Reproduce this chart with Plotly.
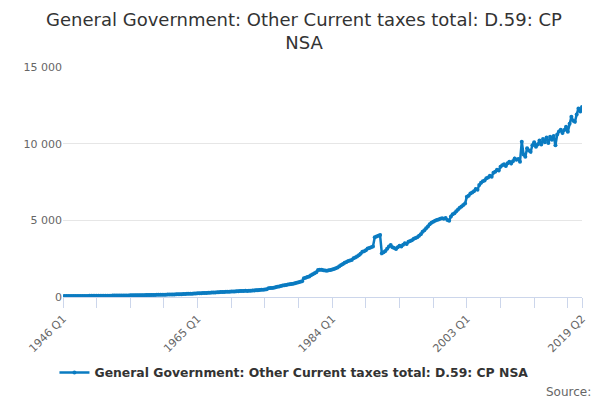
import plotly.graph_objects as go

TITLE = "General Government: Other Current taxes total: D.59: CP<br>NSA"
SERIES_NAME = "General Government: Other Current taxes total: D.59: CP NSA"

# quarterly labels 1946 Q1 .. 2019 Q2
quarters = [f"{y} Q{q}" for y in range(1946, 2020) for q in range(1, 5)][:294]

# values (GBP m), one row per year
values = [
    55, 58, 60, 60,            # 1946
    62, 63, 64, 65,            # 1947
    66, 67, 68, 70,            # 1948
    71, 72, 73, 74,            # 1949
    75, 76, 77, 78,            # 1950
    80, 81, 82, 84,            # 1951
    85, 86, 88, 89,            # 1952
    90, 92, 93, 95,            # 1953
    96, 98, 99, 101,           # 1954
    103, 104, 106, 108,        # 1955
    110, 112, 114, 116,        # 1956
    118, 120, 122, 124,        # 1957
    127, 129, 131, 134,        # 1958
    136, 139, 142, 145,        # 1959
    148, 151, 154, 157,        # 1960
    160, 164, 167, 171,        # 1961
    174, 178, 182, 186,        # 1962
    195, 200, 205, 210,        # 1963
    215, 220, 226, 232,        # 1964
    238, 244, 250, 256,        # 1965
    262, 268, 275, 282,        # 1966
    288, 294, 300, 306,        # 1967
    312, 318, 324, 330,        # 1968
    336, 342, 348, 354,        # 1969
    360, 366, 372, 378,        # 1970
    384, 390, 396, 402,        # 1971
    395, 402, 410, 418,        # 1972
    425, 435, 445, 455,        # 1973
    465, 475, 490, 505,        # 1974
    565, 580, 595, 610,        # 1975
    640, 665, 690, 715,        # 1976
    750, 770, 790, 810,        # 1977
    830, 850, 870, 890,        # 1978
    930, 955, 990, 1020,       # 1979
    1220, 1260, 1300, 1340,    # 1980
    1420, 1480, 1550, 1620,    # 1981
    1760, 1780, 1770, 1750,    # 1982
    1730, 1720, 1740, 1760,    # 1983
    1790, 1820, 1870, 1920,    # 1984
    2000, 2080, 2160, 2240,    # 1985
    2290, 2340, 2380, 2420,    # 1986
    2520, 2580, 2640, 2720,    # 1987
    2820, 2950, 2990, 3050,    # 1988
    3170, 3200, 3250, 3300,    # 1989
    3890, 3950, 4000, 4040,    # 1990
    2850, 2920, 3000, 3150,    # 1991
    3300, 3390, 3250, 3200,    # 1992
    3130, 3250, 3350, 3300,    # 1993
    3400, 3500, 3450, 3600,    # 1994
    3650, 3700, 3800, 3850,    # 1995
    3890, 4000, 4100, 4250,    # 1996
    4350, 4480, 4600, 4750,    # 1997
    4850, 4900, 4980, 5020,    # 1998
    5060, 5100, 5130, 5100,    # 1999
    5150, 5020, 4975, 5250,    # 2000
    5400, 5460, 5600, 5700,    # 2001
    5820, 5900, 6000, 6100,    # 2002
    6540, 6600, 6750, 6820,    # 2003
    6900, 7050, 7000, 7300,    # 2004
    7450, 7550, 7600, 7740,    # 2005
    7800, 7900, 7850, 8100,    # 2006
    8170, 8300, 8250, 8500,    # 2007
    8600, 8650, 8550, 8720,    # 2008
    8820, 8700, 8850, 9040,    # 2009
    8950, 9000, 8820, 10130,   # 2010
    9300, 9150, 9700, 9550,    # 2011
    9470, 9900, 10100, 9800,   # 2012
    9950, 10200, 9950, 10300,  # 2013
    10100, 10400, 10050, 10450,  # 2014
    10250, 10500, 9900, 10600,   # 2015
    10800, 10900, 10700, 10890,  # 2016
    11100, 10780, 11300, 11760,  # 2017
    11500, 11430, 11900, 12300,  # 2018
    12100, 12390,                # 2019
]

y_ticks = [0, 5000, 10000, 15000]
y_ticktext = ["0", "5 000", "10 000", "15 000"]

# minor ticks every 19 quarters, labels every 76, plus the last quarter
tick_idx = list(range(0, len(quarters), 19)) + [len(quarters) - 1]
tick_vals = [quarters[i] for i in tick_idx]
tick_text = [quarters[i] if (i % 76 == 0 or i == len(quarters) - 1) else ""
             for i in tick_idx]

LINE_COL = "#0a7bc1"
FONT = "DejaVu Sans"

# page body has an 8px margin, so the figure is a bit smaller than the window
fig = go.Figure()
fig.add_trace(go.Scatter(x=quarters, y=values, mode="lines+markers",
                         name="<b>" + SERIES_NAME + "</b>",
                         line=dict(color=LINE_COL, width=2.5),
                         marker=dict(color=LINE_COL, size=4)))

fig.update_layout(
    width=592, height=392,
    margin=dict(l=55, r=14, t=59, b=103),
    paper_bgcolor="white", plot_bgcolor="white",
    font=dict(family=FONT, color="#666666", size=11),
    title=dict(text=TITLE, x=0.5, xanchor="center", y=0.955,
               yanchor="middle", font=dict(size=18, color="#333333")),
    showlegend=True,
    legend=dict(orientation="h", x=0.445, xanchor="center", y=-0.33,
                yanchor="middle", font=dict(size=12.4, color="#333333")),
    xaxis=dict(type="category", range=[0, len(quarters) - 1],
               tickmode="array", tickvals=tick_vals, ticktext=tick_text,
               tickangle=-45, ticks="outside", ticklen=10,
               tickcolor="#ccd6eb", showline=True, linecolor="#ccd6eb",
               showgrid=False, tickfont=dict(size=11, color="#666666")),
    yaxis=dict(range=[0, 15000], tickmode="array", tickvals=y_ticks,
               ticktext=y_ticktext, showgrid=True, gridcolor="#e6e6e6",
               zeroline=False, showline=False,
               tickfont=dict(size=11, color="#666666")),
)

fig.add_annotation(text="Source:", xref="paper", yref="paper",
                   x=1.021, y=-0.413, xanchor="right", yanchor="middle",
                   showarrow=False, font=dict(size=12, color="#666666"))

fig.write_html("out.html")
